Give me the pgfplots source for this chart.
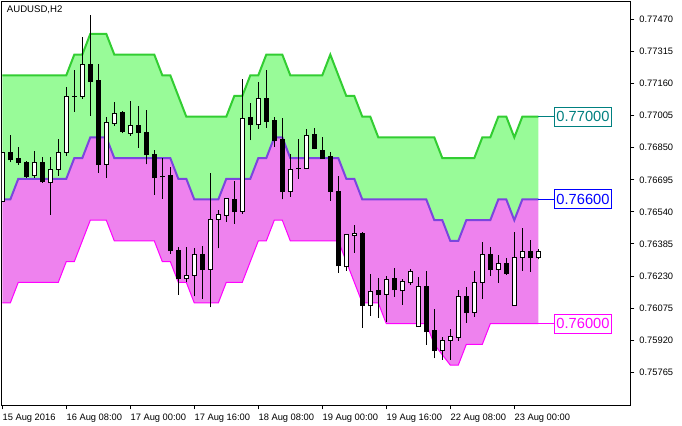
\documentclass[border=0pt]{standalone}
\usepackage{pgfplots}
\pgfplotsset{compat=1.18}
\usepackage{pgfplotstable}
\usepgfplotslibrary{fillbetween}
\usepackage{fontspec}
\setmainfont{Liberation Sans}
\definecolor{upline}{RGB}{50,205,50}
\definecolor{upfill}{RGB}{152,251,152}
\definecolor{midline}{RGB}{122,70,222}
\definecolor{lofill}{RGB}{238,130,238}
\definecolor{loline}{RGB}{255,0,255}
\definecolor{lblteal}{RGB}{0,128,128}
\definecolor{lblblue}{RGB}{0,0,255}

\pgfplotstableread{
x u m l
0 0.7720 0.7660 0.7610
1 0.7720 0.7660 0.7610
2 0.7720 0.7670 0.7620
3 0.7720 0.7670 0.7620
4 0.7720 0.7670 0.7620
5 0.7720 0.7670 0.7620
6 0.7720 0.7670 0.7620
7 0.7720 0.7670 0.7620
8 0.7720 0.7670 0.7630
9 0.7730 0.7680 0.7630
10 0.7730 0.7680 0.7640
11 0.7740 0.7690 0.7650
12 0.7740 0.7690 0.7650
13 0.7740 0.7690 0.7650
14 0.7730 0.7680 0.7640
15 0.7730 0.7680 0.7640
16 0.7730 0.7680 0.7640
17 0.7730 0.7680 0.7640
18 0.7730 0.7680 0.7640
19 0.7730 0.7680 0.7640
20 0.7720 0.7680 0.7630
21 0.7720 0.7680 0.7630
22 0.7710 0.7670 0.7620
23 0.7700 0.7670 0.7620
24 0.7700 0.7660 0.7610
25 0.7700 0.7660 0.7610
26 0.7700 0.7660 0.7610
27 0.7700 0.7660 0.7610
28 0.7700 0.7670 0.7620
29 0.7710 0.7670 0.7620
30 0.7710 0.7670 0.7620
31 0.7720 0.7670 0.7630
32 0.7720 0.7680 0.7640
33 0.7730 0.7680 0.7640
34 0.7730 0.7690 0.7650
35 0.7730 0.7690 0.7650
36 0.7720 0.7680 0.7640
37 0.7720 0.7680 0.7640
38 0.7720 0.7680 0.7640
39 0.7720 0.7680 0.7640
40 0.7720 0.7680 0.7640
41 0.7730 0.7680 0.7640
42 0.7720 0.7680 0.7640
43 0.7710 0.7670 0.7630
44 0.7710 0.7670 0.7620
45 0.7700 0.7660 0.7610
46 0.7700 0.7660 0.7610
47 0.7690 0.7660 0.7610
48 0.7690 0.7660 0.7600
49 0.7690 0.7660 0.7600
50 0.7690 0.7660 0.7600
51 0.7690 0.7660 0.7600
52 0.7690 0.7660 0.7600
53 0.7690 0.7660 0.7600
54 0.7690 0.7650 0.7590
55 0.7680 0.7650 0.7585
56 0.7680 0.7640 0.7580
57 0.7680 0.7640 0.7580
58 0.7680 0.7650 0.7590
59 0.7680 0.7650 0.7590
60 0.7690 0.7650 0.7590
61 0.7690 0.7650 0.7600
62 0.7700 0.7660 0.7600
63 0.7700 0.7660 0.7600
64 0.7690 0.7650 0.7600
65 0.7700 0.7660 0.7600
66 0.7700 0.7660 0.7600
67 0.7700 0.7660 0.7600
}\chan

% bullish (white) candles
\pgfplotstableread{
x o h l c
0 0.76589 0.76828 0.76589 0.76828
4 0.76715 0.76834 0.76705 0.76780
6 0.76681 0.76805 0.76527 0.76746
7 0.76746 0.76891 0.76714 0.76828
8 0.76828 0.77142 0.76812 0.77099
10 0.77099 0.77384 0.77086 0.77250
13 0.76770 0.76997 0.76705 0.76973
14 0.76968 0.77070 0.76957 0.77016
16 0.76920 0.77076 0.76908 0.76958
23 0.76217 0.76369 0.76201 0.76234
24 0.76234 0.76364 0.76132 0.76335
26 0.76263 0.76727 0.76079 0.76504
27 0.76504 0.76549 0.76364 0.76529
28 0.76524 0.76606 0.76493 0.76606
30 0.76541 0.77182 0.76530 0.76992
32 0.76961 0.77168 0.76942 0.77089
36 0.76638 0.76820 0.76614 0.76747
38 0.76749 0.76941 0.76749 0.76910
43 0.76275 0.76433 0.76256 0.76429
44 0.76425 0.76477 0.76343 0.76437
46 0.76087 0.76240 0.76039 0.76157
48 0.76142 0.76232 0.76008 0.76215
50 0.76159 0.76216 0.76092 0.76206
51 0.76197 0.76264 0.76188 0.76253
52 0.75986 0.76226 0.75986 0.76182
55 0.75870 0.75936 0.75826 0.75920
56 0.75920 0.75973 0.75826 0.75936
57 0.75934 0.76163 0.75918 0.76132
59 0.76053 0.76255 0.76034 0.76201
60 0.76200 0.76395 0.76121 0.76332
62 0.76261 0.76332 0.76198 0.76293
64 0.76087 0.76444 0.76087 0.76321
65 0.76321 0.76462 0.76256 0.76351
67 0.76319 0.76362 0.76311 0.76351
}\bull

% bearish (black) candles and dojis
\pgfplotstableread{
x o h l c
1 0.76828 0.76912 0.76780 0.76792
2 0.76800 0.76854 0.76768 0.76778
3 0.76781 0.76785 0.76705 0.76710
5 0.76781 0.76807 0.76680 0.76685
9 0.77099 0.77226 0.77024 0.77099
11 0.77250 0.77491 0.77005 0.77169
12 0.77177 0.77253 0.76729 0.76768
15 0.77018 0.77028 0.76921 0.76928
17 0.76958 0.77052 0.76850 0.76925
18 0.76926 0.77032 0.76770 0.76816
19 0.76818 0.76839 0.76623 0.76705
20 0.76709 0.76799 0.76604 0.76709
21 0.76714 0.76758 0.76338 0.76353
22 0.76356 0.76372 0.76140 0.76217
25 0.76332 0.76374 0.76121 0.76261
29 0.76601 0.76689 0.76483 0.76541
31 0.76994 0.77066 0.76887 0.76961
33 0.77090 0.77226 0.76947 0.76976
34 0.76984 0.76999 0.76855 0.76887
35 0.76892 0.76994 0.76601 0.76638
37 0.76749 0.76892 0.76700 0.76749
39 0.76912 0.76945 0.76843 0.76847
40 0.76839 0.76902 0.76799 0.76800
41 0.76810 0.76828 0.76593 0.76641
42 0.76641 0.76714 0.76246 0.76279
45 0.76438 0.76443 0.75981 0.76087
47 0.76158 0.76221 0.76029 0.76140
49 0.76216 0.76269 0.76130 0.76163
53 0.76182 0.76255 0.75899 0.75961
54 0.75965 0.76071 0.75834 0.75870
58 0.76132 0.76176 0.76005 0.76053
61 0.76332 0.76371 0.76232 0.76261
63 0.76293 0.76316 0.76237 0.76242
66 0.76351 0.76404 0.76251 0.76319
}\bear

\pgfplotsset{candle/.style={only marks, mark size=0pt, mark options={draw=none, fill=none},
  error bars/.cd, y dir=plus, y explicit, error mark=none}}

\begin{document}
\begin{tikzpicture}
\begin{axis}[
  at={(0pt,0pt)}, anchor=south west,
  scale only axis, width=471pt, height=302.25pt,
  xmin=-0.0375, xmax=78.4625,
  ymin=0.756072, ymax=0.775541,
  axis line style={line width=0.75pt},
  xtick={0,8,16,24,32,40,48,56,64},
  xticklabels={15 Aug 2016,16 Aug 08:00,17 Aug 00:00,17 Aug 16:00,18 Aug 08:00,19 Aug 00:00,19 Aug 16:00,22 Aug 08:00,23 Aug 00:00},
  ytick={0.75765,0.75920,0.76075,0.76230,0.76385,0.76540,0.76695,0.76850,0.77005,0.77160,0.77315,0.77470},
  yticklabels={0.75765,0.75920,0.76075,0.76230,0.76385,0.76540,0.76695,0.76850,0.77005,0.77160,0.77315,0.77470},
  scaled y ticks=false,
  yticklabel pos=right,
  ytick pos=right, xtick pos=left,
  tick align=outside,
  major tick length=3.25pt,
  tick style={black, line width=0.75pt},
  xticklabel style={anchor=north west, inner sep=0pt, yshift=-3.5pt, font=\fontsize{7}{8}\selectfont},
  yticklabel style={anchor=west, inner sep=0pt, xshift=3.6pt, font=\fontsize{7}{8}\selectfont},
  clip=true,
]
\addplot[draw=none, name path=U] table[x=x, y=u] {\chan};
\addplot[draw=none, name path=M] table[x=x, y=m] {\chan};
\addplot[draw=none, name path=L] table[x=x, y=l] {\chan};
\addplot[upfill, draw=none] fill between[of=U and M];
\addplot[lofill, draw=none] fill between[of=M and L];
\addplot[upline, line width=1.5pt] table[x=x, y=u] {\chan};
\addplot[midline, line width=1.5pt] table[x=x, y=m] {\chan};
\addplot[loline, line width=0.75pt] table[x=x, y=l] {\chan};
% price label connectors
\addplot[lblteal, line width=0.75pt] coordinates {(67,0.7700) (69,0.7700)};
\addplot[lblblue, line width=0.75pt] coordinates {(67,0.7660) (69,0.7660)};
\addplot[loline, line width=0.75pt] coordinates {(67,0.7600) (69,0.7600)};
% wicks
\addplot[candle, error bar style={draw=black, line width=0.75pt}]
  table[x=x, y=l, y error expr=\thisrow{h}-\thisrow{l}] {\bull};
\addplot[candle, error bar style={draw=black, line width=0.75pt}]
  table[x=x, y=l, y error expr=\thisrow{h}-\thisrow{l}] {\bear};
% bodies
\addplot[candle, error bar style={draw=black, line width=3.75pt}]
  table[x=x, y expr=\thisrow{c}-0.0000242, y error expr=\thisrow{o}-\thisrow{c}+0.0000484] {\bear};
\addplot[candle, error bar style={draw=black, line width=3.75pt}]
  table[x=x, y expr=\thisrow{o}-0.0000242, y error expr=\thisrow{c}-\thisrow{o}+0.0000484] {\bull};
\addplot[candle, error bar style={draw=white, line width=2.25pt}]
  table[x=x, y expr=\thisrow{o}+0.0000242, y error expr=\thisrow{c}-\thisrow{o}-0.0000484] {\bull};
% labels
\node[anchor=north west, inner sep=0pt, font=\fontsize{7.2}{8}\selectfont] at ([xshift=3.5pt,yshift=-3pt]rel axis cs:0,1) {AUDUSD,H2};
\node[draw=lblteal, text=lblteal, fill=white, line width=0.75pt, anchor=west, minimum width=42.75pt, minimum height=14.25pt, inner sep=0pt, font=\fontsize{11}{12}\selectfont] at (axis cs:68.96,0.7700) {0.77000};
\node[draw=lblblue, text=lblblue, fill=white, line width=0.75pt, anchor=west, minimum width=42.75pt, minimum height=14.25pt, inner sep=0pt, font=\fontsize{11}{12}\selectfont] at (axis cs:68.96,0.7660) {0.76600};
\node[draw=loline, text=loline, fill=white, line width=0.75pt, anchor=west, minimum width=42.75pt, minimum height=14.25pt, inner sep=0pt, font=\fontsize{11}{12}\selectfont] at (axis cs:68.96,0.7600) {0.76000};
\end{axis}
\pgfresetboundingbox
\path (-1.5pt,-15pt) rectangle (510pt,303.75pt);
\end{tikzpicture}
\end{document}
